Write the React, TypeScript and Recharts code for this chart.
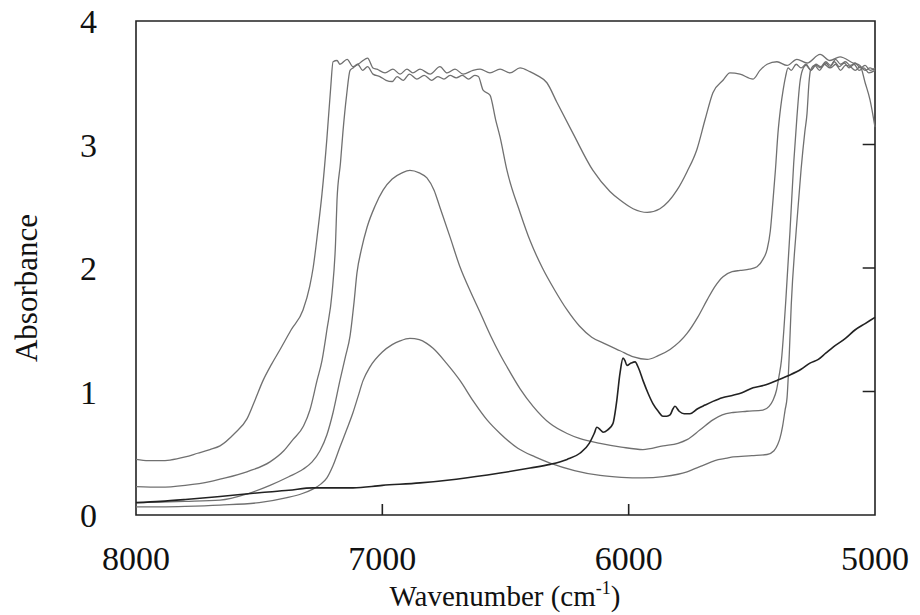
import React from 'react';
import { LineChart, Line, XAxis, YAxis, ReferenceArea, ReferenceLine } from 'recharts';

// [wavenumber (cm-1), absorbance]
const seriesA: [number, number][] = [
  [8000, 0.45], [7950, 0.44], [7900, 0.44], [7862, 0.445], [7800, 0.47], [7750, 0.5], [7700, 0.53],
  [7659, 0.56], [7600, 0.66], [7549, 0.78], [7517, 0.93], [7484, 1.09], [7450, 1.22], [7415, 1.34],
  [7370, 1.5], [7322, 1.66], [7295, 1.85], [7281, 2.0], [7262, 2.3], [7245, 2.6], [7225, 3.05],
  [7210, 3.45], [7200, 3.67], [7184, 3.68], [7172, 3.65], [7143, 3.69], [7119, 3.63], [7091, 3.66],
  [7060, 3.7], [7038, 3.62], [7022, 3.61], [6989, 3.58], [6957, 3.61], [6928, 3.57], [6900, 3.61],
  [6876, 3.58], [6847, 3.61], [6806, 3.57], [6766, 3.63], [6737, 3.58], [6705, 3.61], [6672, 3.57],
  [6632, 3.6], [6603, 3.61], [6563, 3.58], [6522, 3.61], [6482, 3.58], [6441, 3.62], [6401, 3.59],
  [6372, 3.56], [6332, 3.5], [6291, 3.34], [6226, 3.09], [6145, 2.79], [6076, 2.62], [6035, 2.55],
  [5982, 2.48], [5925, 2.45], [5873, 2.48], [5804, 2.63], [5763, 2.78], [5723, 2.96], [5690, 3.2],
  [5658, 3.42], [5617, 3.52], [5589, 3.58], [5548, 3.57], [5495, 3.53], [5467, 3.6], [5438, 3.65],
  [5398, 3.67], [5357, 3.64], [5317, 3.69], [5276, 3.66], [5223, 3.73], [5183, 3.68], [5142, 3.71],
  [5089, 3.66], [5061, 3.64], [5040, 3.5], [5020, 3.36], [5000, 3.14],
];

const seriesB: [number, number][] = [
  [8000, 0.23], [7900, 0.225], [7800, 0.24], [7700, 0.27], [7659, 0.29], [7550, 0.35], [7456, 0.43],
  [7400, 0.52], [7363, 0.61], [7320, 0.72], [7294, 0.85], [7265, 1.09], [7245, 1.25], [7225, 1.5],
  [7204, 1.8], [7190, 2.2], [7184, 2.55], [7170, 2.85], [7160, 3.1], [7145, 3.4], [7131, 3.6],
  [7119, 3.62], [7100, 3.65], [7080, 3.6], [7060, 3.63], [7038, 3.57], [7010, 3.55], [6985, 3.52],
  [6960, 3.51], [6940, 3.55], [6915, 3.52], [6890, 3.57], [6860, 3.53], [6830, 3.56], [6800, 3.52],
  [6775, 3.55], [6750, 3.53], [6725, 3.56], [6700, 3.54], [6675, 3.56], [6650, 3.53], [6625, 3.56],
  [6610, 3.55], [6591, 3.44], [6563, 3.4], [6540, 3.2], [6522, 3.06], [6494, 2.79], [6441, 2.45],
  [6400, 2.22], [6350, 2.0], [6300, 1.82], [6250, 1.66], [6200, 1.53], [6150, 1.44], [6100, 1.39],
  [6035, 1.33], [5980, 1.28], [5925, 1.26], [5880, 1.29], [5832, 1.34], [5763, 1.47], [5720, 1.6],
  [5682, 1.74], [5650, 1.85], [5617, 1.93], [5580, 1.97], [5548, 1.98], [5510, 1.99], [5479, 2.01],
  [5455, 2.07], [5438, 2.15], [5425, 2.3], [5414, 2.55], [5404, 2.8], [5394, 3.09], [5383, 3.3],
  [5373, 3.44], [5363, 3.55], [5353, 3.62], [5340, 3.6], [5320, 3.65], [5300, 3.62], [5280, 3.65],
  [5260, 3.6], [5240, 3.64], [5220, 3.62], [5200, 3.66], [5180, 3.62], [5160, 3.65], [5140, 3.6],
  [5120, 3.64], [5100, 3.63], [5080, 3.6], [5060, 3.63], [5040, 3.6], [5020, 3.62], [5000, 3.6],
];

const seriesC: [number, number][] = [
  [8000, 0.1], [7900, 0.105], [7800, 0.11], [7659, 0.12], [7550, 0.17], [7456, 0.24], [7380, 0.31],
  [7322, 0.37], [7285, 0.43], [7253, 0.52], [7225, 0.65], [7200, 0.83], [7172, 1.09], [7150, 1.28],
  [7131, 1.45], [7115, 1.72], [7103, 1.96], [7085, 2.15], [7062, 2.33], [7030, 2.5], [6997, 2.63],
  [6960, 2.72], [6920, 2.77], [6888, 2.79], [6850, 2.77], [6819, 2.73], [6790, 2.63], [6766, 2.49],
  [6725, 2.25], [6685, 2.01], [6640, 1.8], [6603, 1.64], [6560, 1.45], [6522, 1.3], [6494, 1.2],
  [6440, 1.02], [6388, 0.88], [6319, 0.74], [6250, 0.66], [6200, 0.62], [6116, 0.58], [6030, 0.55],
  [5942, 0.53], [5860, 0.56], [5800, 0.58], [5763, 0.61], [5710, 0.69], [5658, 0.77], [5620, 0.81],
  [5576, 0.83], [5520, 0.84], [5455, 0.85], [5430, 0.88], [5414, 0.93], [5400, 1.01], [5390, 1.12],
  [5380, 1.25], [5370, 1.5], [5362, 1.74], [5345, 2.3], [5330, 2.85], [5317, 3.22], [5305, 3.5],
  [5295, 3.6], [5280, 3.64], [5260, 3.6], [5240, 3.65], [5220, 3.63], [5200, 3.67], [5180, 3.64],
  [5160, 3.69], [5140, 3.65], [5120, 3.67], [5100, 3.64], [5080, 3.66], [5060, 3.62], [5040, 3.64],
  [5020, 3.6], [5000, 3.62],
];

const seriesD: [number, number][] = [
  [8000, 0.065], [7900, 0.066], [7800, 0.07], [7659, 0.08], [7500, 0.1], [7387, 0.14], [7330, 0.17],
  [7282, 0.21], [7250, 0.25], [7225, 0.3], [7200, 0.4], [7172, 0.55], [7145, 0.69], [7119, 0.83],
  [7100, 0.95], [7078, 1.09], [7050, 1.2], [7000, 1.32], [6960, 1.38], [6928, 1.41], [6888, 1.43],
  [6850, 1.42], [6820, 1.39], [6794, 1.35], [6740, 1.23], [6685, 1.09], [6630, 0.92], [6575, 0.77],
  [6522, 0.66], [6450, 0.54], [6380, 0.47], [6319, 0.42], [6220, 0.36], [6116, 0.32], [6030, 0.305],
  [5942, 0.3], [5860, 0.31], [5800, 0.33], [5763, 0.35], [5700, 0.4], [5650, 0.44], [5600, 0.46],
  [5576, 0.47], [5500, 0.48], [5438, 0.49], [5410, 0.52], [5395, 0.57], [5386, 0.62], [5375, 0.72],
  [5365, 0.85], [5357, 0.95], [5348, 1.3], [5340, 1.7], [5320, 2.3], [5300, 2.8], [5285, 3.1],
  [5276, 3.25], [5268, 3.5], [5262, 3.6], [5245, 3.64], [5225, 3.6], [5205, 3.65], [5185, 3.62],
  [5165, 3.67], [5145, 3.63], [5125, 3.66], [5105, 3.62], [5085, 3.65], [5065, 3.6], [5045, 3.62],
  [5025, 3.58], [5000, 3.6],
];

const seriesDark: [number, number][] = [
  [8000, 0.1], [7900, 0.11], [7800, 0.125], [7659, 0.15], [7500, 0.18], [7380, 0.2], [7282, 0.22],
  [7200, 0.22], [7119, 0.22], [7000, 0.24], [6847, 0.26], [6700, 0.29], [6522, 0.34], [6400, 0.38],
  [6319, 0.41], [6250, 0.45], [6198, 0.5], [6160, 0.58], [6140, 0.66], [6129, 0.71], [6115, 0.69],
  [6104, 0.67], [6085, 0.69], [6064, 0.74], [6050, 0.9], [6035, 1.15], [6023, 1.27], [6015, 1.25],
  [6007, 1.21], [5990, 1.23], [5974, 1.24], [5960, 1.19], [5942, 1.09], [5920, 0.98], [5901, 0.9],
  [5880, 0.84], [5861, 0.8], [5845, 0.8], [5832, 0.81], [5820, 0.86], [5812, 0.88], [5795, 0.84],
  [5775, 0.82], [5751, 0.82], [5720, 0.86], [5690, 0.89], [5658, 0.92], [5620, 0.95], [5576, 0.97],
  [5540, 0.99], [5495, 1.03], [5450, 1.05], [5398, 1.09], [5350, 1.13], [5300, 1.18], [5264, 1.23],
  [5230, 1.26], [5200, 1.31], [5170, 1.36], [5120, 1.43], [5080, 1.5], [5040, 1.55], [5000, 1.6],
];

const xTicks = [8000, 7000, 6000, 5000];
const yTicks = [0, 1, 2, 3, 4];
const innerXTicks = [7000, 6000];
const rightTicks = [1, 2, 3];

const toRows = (s: [number, number][]) => s.map(([wn, abs]) => ({ wn, abs }));

const FONT = '"Liberation Serif", "Times New Roman", serif';
const GRAY = '#707070';
const INK = '#222';

const BottomTick = (props: any) => {
  const { x, y, payload } = props;
  return (
    <text x={x} y={y + 24} textAnchor="middle" fontFamily={FONT} fontSize={34} fill="#111">
      {payload.value}
    </text>
  );
};

const LeftTick = (props: any) => {
  const { x, y, payload } = props;
  return (
    <text x={x} y={y + 12} textAnchor="end" fontFamily={FONT} fontSize={34} fill="#111">
      {payload.value}
    </text>
  );
};

// keep only the bottom part of a vertical reference line: an inward tick mark
const BottomTickMark = (props: any) => {
  const { x1, x2, y1, y2 } = props;
  const yb = Math.max(Number(y1), Number(y2));
  return <line x1={x1} x2={x2} y1={yb} y2={yb - 11} stroke={INK} strokeWidth={1.6} />;
};

const App: React.FC = () => {
  const lines = [
    { key: 'A', data: seriesA, color: GRAY, width: 1.3 },
    { key: 'B', data: seriesB, color: GRAY, width: 1.3 },
    { key: 'C', data: seriesC, color: GRAY, width: 1.3 },
    { key: 'D', data: seriesD, color: GRAY, width: 1.3 },
    { key: 'dark', data: seriesDark, color: INK, width: 1.6 },
  ];

  return (
    <div style={{ position: 'absolute', left: 0, top: 0, width: 920, height: 615, background: '#fff', fontFamily: FONT }}>
      <LineChart width={920} height={615} margin={{ top: 21, right: 45, bottom: 40, left: 76 }}>
        <XAxis
          dataKey="wn"
          type="number"
          domain={[5000, 8000]}
          reversed
          ticks={xTicks}
          allowDuplicatedCategory={false}
          height={60}
          axisLine={false}
          tickLine={false}
          tickSize={0}
          tickMargin={31}
          tick={<BottomTick />}
        />
        <YAxis
          yAxisId="left"
          type="number"
          domain={[0, 4]}
          ticks={yTicks}
          width={60}
          axisLine={false}
          tickLine={false}
          tickSize={0}
          tickMargin={39}
          tick={<LeftTick />}
        />
        <ReferenceArea
          yAxisId="left"
          x1={8000}
          x2={5000}
          y1={0}
          y2={4}
          fill="none"
          fillOpacity={0}
          stroke={INK}
          strokeWidth={1.6}
        />
        {innerXTicks.map(t => (
          <ReferenceLine key={`xt-${t}`} yAxisId="left" x={t} stroke={INK} shape={<BottomTickMark />} />
        ))}
        {rightTicks.map(t => (
          <ReferenceLine
            key={`yt-${t}`}
            yAxisId="left"
            segment={[{ x: 5000, y: t }, { x: 5050, y: t }]}
            stroke={INK}
            strokeWidth={1.5}
          />
        ))}
        {lines.map(l => (
          <Line
            key={l.key}
            yAxisId="left"
            data={toRows(l.data)}
            dataKey="abs"
            type="monotone"
            stroke={l.color}
            strokeWidth={l.width}
            dot={false}
            isAnimationActive={false}
          />
        ))}
      </LineChart>
      <svg width={920} height={615} style={{ position: 'absolute', left: 0, top: 0, pointerEvents: 'none' }}>
        <text x={505} y={606} textAnchor="middle" fontFamily={FONT} fontSize={29} fill="#111">
          Wavenumber (cm
          <tspan fontSize={18} dy={-12}>-1</tspan>
          <tspan dy={12}>)</tspan>
        </text>
        <text
          x={37}
          y={288}
          textAnchor="middle"
          fontFamily={FONT}
          fontSize={31}
          fill="#111"
          transform="rotate(-90 37 288)"
        >
          Absorbance
        </text>
      </svg>
    </div>
  );
};

export default App;
